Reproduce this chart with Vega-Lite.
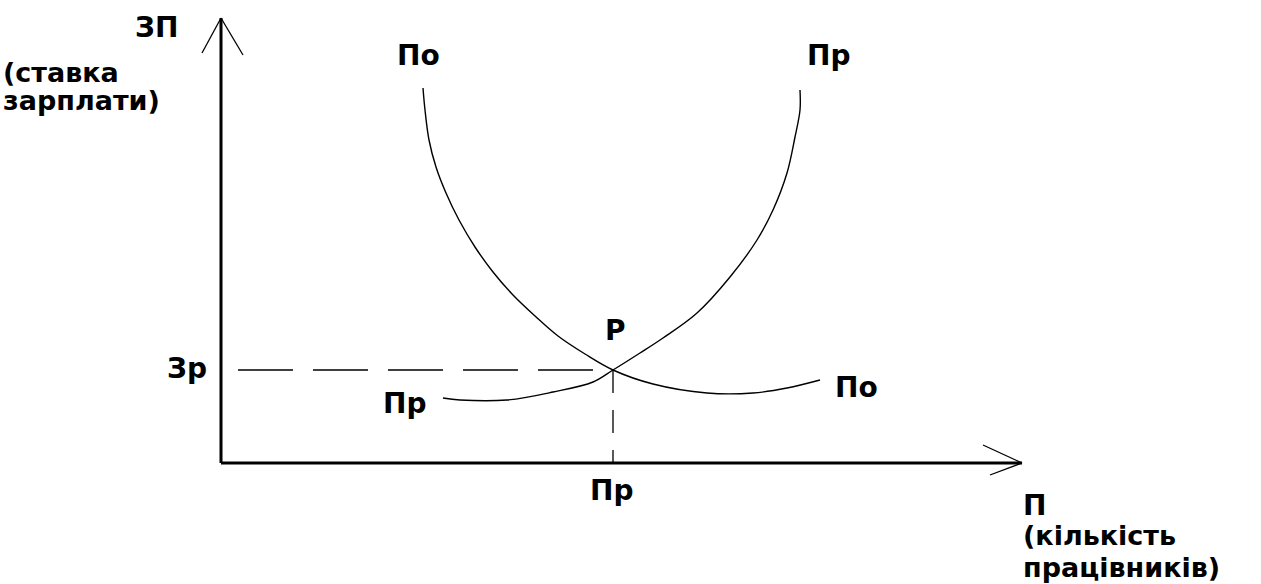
{
  "$schema": "https://vega.github.io/schema/vega-lite/v6.json",
  "width": 1261,
  "height": 584,
  "padding": 0,
  "autosize": {"type": "none"},
  "background": "white",
  "config": {"view": {"stroke": null}},
  "datasets": {
    "curves": [
      {"curve": "По", "i": 0, "x": 202, "y": 375},
      {"curve": "По", "i": 1, "x": 204, "y": 353},
      {"curve": "По", "i": 2, "x": 208, "y": 323},
      {"curve": "По", "i": 3, "x": 215, "y": 296},
      {"curve": "По", "i": 4, "x": 225, "y": 270},
      {"curve": "По", "i": 5, "x": 238, "y": 243},
      {"curve": "По", "i": 6, "x": 254, "y": 216},
      {"curve": "По", "i": 7, "x": 272, "y": 191},
      {"curve": "По", "i": 8, "x": 292, "y": 168},
      {"curve": "По", "i": 9, "x": 314, "y": 147},
      {"curve": "По", "i": 10, "x": 337, "y": 127},
      {"curve": "По", "i": 11, "x": 364, "y": 109},
      {"curve": "По", "i": 12, "x": 392, "y": 93},
      {"curve": "По", "i": 13, "x": 432, "y": 79},
      {"curve": "По", "i": 14, "x": 486, "y": 70},
      {"curve": "По", "i": 15, "x": 532, "y": 70},
      {"curve": "По", "i": 16, "x": 566, "y": 75},
      {"curve": "По", "i": 17, "x": 599, "y": 83},
      {"curve": "Пр", "i": 0, "x": 222, "y": 65},
      {"curve": "Пр", "i": 1, "x": 239, "y": 63},
      {"curve": "Пр", "i": 2, "x": 286, "y": 63},
      {"curve": "Пр", "i": 3, "x": 332, "y": 71},
      {"curve": "Пр", "i": 4, "x": 372, "y": 81},
      {"curve": "Пр", "i": 5, "x": 392, "y": 93},
      {"curve": "Пр", "i": 6, "x": 419, "y": 110},
      {"curve": "Пр", "i": 7, "x": 442, "y": 125},
      {"curve": "Пр", "i": 8, "x": 476, "y": 150},
      {"curve": "Пр", "i": 9, "x": 509, "y": 186},
      {"curve": "Пр", "i": 10, "x": 536, "y": 223},
      {"curve": "Пр", "i": 11, "x": 552, "y": 253},
      {"curve": "Пр", "i": 12, "x": 566, "y": 290},
      {"curve": "Пр", "i": 13, "x": 574, "y": 326},
      {"curve": "Пр", "i": 14, "x": 579, "y": 353},
      {"curve": "Пр", "i": 15, "x": 579, "y": 373}
    ],
    "segments": [
      {"kind": "axis", "x": 0, "x2": 0, "y": 0, "y2": 445},
      {"kind": "axis", "x": 0, "x2": 801, "y": 0, "y2": 0},
      {"kind": "arrow", "x": 0, "x2": -19, "y": 445, "y2": 410},
      {"kind": "arrow", "x": 0, "x2": 22, "y": 445, "y2": 408},
      {"kind": "arrow", "x": 801, "x2": 762, "y": 0, "y2": 18},
      {"kind": "arrow", "x": 801, "x2": 769, "y": 0, "y2": -12},
      {"kind": "hdash", "x": 17, "x2": 392, "y": 93, "y2": 93},
      {"kind": "vdash", "x": 392, "x2": 392, "y": 93, "y2": 0}
    ],
    "labels": [
      {"role": "mark", "text": "ЗП", "x": -86, "y": 426},
      {"role": "caption", "text": "(ставка", "x": -218, "y": 381},
      {"role": "caption", "text": "зарплати)", "x": -218, "y": 353},
      {"role": "mark", "text": "По", "x": 176, "y": 398},
      {"role": "mark", "text": "Пр", "x": 586, "y": 398},
      {"role": "mark", "text": "Р", "x": 384, "y": 123},
      {"role": "mark", "text": "Зр", "x": -54, "y": 85},
      {"role": "mark", "text": "Пр", "x": 162, "y": 50},
      {"role": "mark", "text": "По", "x": 614, "y": 66},
      {"role": "mark", "text": "Пр", "x": 369, "y": -37},
      {"role": "mark", "text": "П", "x": 802, "y": -52},
      {"role": "caption", "text": "(кількість", "x": 802, "y": -82},
      {"role": "caption", "text": "працівників)", "x": 802, "y": -114}
    ]
  },
  "encoding": {
    "x": {"field": "x", "type": "quantitative", "axis": null, "scale": {"domain": [-221, 1040], "nice": false, "zero": false}},
    "y": {"field": "y", "type": "quantitative", "axis": null, "scale": {"domain": [-121, 463], "nice": false, "zero": false}}
  },
  "layer": [
    {
      "data": {"name": "segments"},
      "transform": [{"filter": "datum.kind === 'axis'"}],
      "mark": {"type": "rule", "color": "black", "strokeWidth": 3},
      "encoding": {"x2": {"field": "x2"}, "y2": {"field": "y2"}}
    },
    {
      "data": {"name": "segments"},
      "transform": [{"filter": "datum.kind === 'arrow'"}],
      "mark": {"type": "rule", "color": "black", "strokeWidth": 1.3},
      "encoding": {"x2": {"field": "x2"}, "y2": {"field": "y2"}}
    },
    {
      "data": {"name": "segments"},
      "transform": [{"filter": "datum.kind === 'hdash'"}],
      "mark": {"type": "rule", "color": "black", "strokeWidth": 1.3, "strokeDash": [55, 20]},
      "encoding": {"x2": {"field": "x2"}, "y2": {"field": "y2"}}
    },
    {
      "data": {"name": "segments"},
      "transform": [{"filter": "datum.kind === 'vdash'"}],
      "mark": {"type": "rule", "color": "black", "strokeWidth": 1.3, "strokeDash": [23, 17]},
      "encoding": {"x2": {"field": "x2"}, "y2": {"field": "y2"}}
    },
    {
      "data": {"name": "curves"},
      "mark": {"type": "line", "color": "black", "strokeWidth": 1.4, "interpolate": "catmull-rom"},
      "encoding": {"detail": {"field": "curve"}, "order": {"field": "i", "type": "quantitative"}}
    },
    {
      "data": {"name": "labels"},
      "transform": [{"filter": "datum.role === 'mark'"}],
      "mark": {"type": "text", "align": "left", "baseline": "alphabetic", "font": "DejaVu Sans", "fontWeight": "bold", "fontSize": 28, "color": "black"},
      "encoding": {"text": {"field": "text"}}
    },
    {
      "data": {"name": "labels"},
      "transform": [{"filter": "datum.role === 'caption'"}],
      "mark": {"type": "text", "align": "left", "baseline": "alphabetic", "font": "DejaVu Sans", "fontWeight": "bold", "fontSize": 27, "color": "black"},
      "encoding": {"text": {"field": "text"}}
    }
  ]
}
